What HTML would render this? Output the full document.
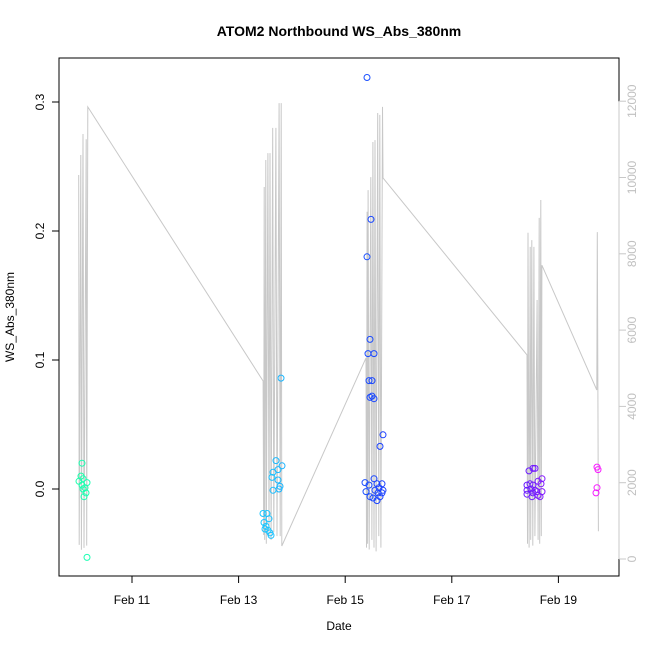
<!DOCTYPE html>
<html><head><meta charset="utf-8"><style>
html,body{margin:0;padding:0;background:#fff;}
svg{display:block;font-family:"Liberation Sans",sans-serif;}
</style></head><body>
<svg id="chart" width="650" height="650" viewBox="0 0 650 650">
<text x="339" y="36" text-anchor="middle" font-size="14" font-weight="bold">ATOM2 Northbound WS_Abs_380nm</text>
<text x="339" y="630" text-anchor="middle" font-size="12">Date</text>
<text transform="translate(14,317) rotate(-90)" text-anchor="middle" font-size="12">WS_Abs_380nm</text>
<rect x="59" y="58" width="560" height="518" fill="none" stroke="#000" stroke-width="1"/>
<g id="gray"></g><g id="pts"></g><g id="axes"></g>
</svg>
<script>
const grayDays=[10.00,10.01,10.04,10.05,10.08,10.10,10.14,10.15,10.17,
13.46,13.47,13.48,13.49,13.51,13.52,13.55,13.57,13.59,13.61,13.64,13.66,13.70,13.72,13.76,13.78,13.80,13.81,
15.39,15.40,15.41,15.42,15.43,15.45,15.48,15.50,15.52,15.54,15.56,15.58,15.61,15.63,15.65,15.67,15.70,15.71,
18.41,18.42,18.43,18.45,18.47,18.48,18.50,18.52,18.54,18.56,18.60,18.62,18.64,18.65,18.67,18.68,18.69,
19.72,19.73,19.75];
const grayValues=[10065,370,10590,240,11140,290,11000,350,11850,
4666,630,9750,500,10460,400,10640,600,10640,500,11300,700,11300,600,11950,600,11950,340,
5270,300,9100,400,9670,250,10010,500,10930,300,10980,200,11690,600,11640,300,11850,9990,
5350,400,8550,300,8180,500,8360,350,8180,600,6790,500,8940,400,9410,600,7700,
4430,8570,730];
const pointDays=[10.062,10.043,10.006,10.081,10.156,10.062,10.118,10.081,10.137,10.099,10.156,
13.795,13.702,13.814,13.645,13.627,13.739,13.739,13.645,13.777,13.758,13.458,13.533,13.570,13.477,13.514,13.495,13.552,13.589,13.608,
15.409,15.484,15.409,15.465,15.428,15.540,15.447,15.503,15.465,15.503,15.540,15.709,15.653,15.371,15.447,15.540,15.390,15.597,15.690,15.634,15.559,15.709,15.615,15.690,15.465,15.522,15.653,15.597,
18.448,18.523,18.561,18.617,18.692,18.674,18.411,18.467,18.523,18.411,18.486,18.561,18.598,18.692,18.411,18.523,18.617,18.505,18.655,
19.724,19.743,19.724,19.705];
const pointValues=[0.020,0.010,0.006,0.008,0.005,0.003,0.001,0.0,-0.003,-0.006,-0.053,
0.086,0.022,0.018,0.013,0.009,0.015,0.007,-0.001,0.002,0.0,-0.019,-0.019,-0.023,-0.026,-0.029,-0.031,-0.032,-0.034,-0.036,
0.319,0.209,0.180,0.116,0.105,0.105,0.084,0.084,0.071,0.072,0.070,0.042,0.033,0.005,0.003,0.008,-0.002,0.004,0.004,0.001,-0.001,-0.001,-0.003,-0.003,-0.006,-0.007,-0.006,-0.009,
0.014,0.016,0.016,0.006,0.008,0.004,0.003,0.004,0.003,-0.001,0.0,-0.001,-0.002,-0.002,-0.004,-0.003,-0.005,-0.006,-0.006,
0.017,0.015,0.001,-0.003];
const xTickDays=[11,13,15,17,19];
const xTickLabels=["Feb 11","Feb 13","Feb 15","Feb 17","Feb 19"];
const yTicks=[0,0.1,0.2,0.3];
const yTickLabels=["0.0","0.1","0.2","0.3"];
const y2Ticks=[0,2000,4000,6000,8000,10000,12000];

const NS="http://www.w3.org/2000/svg";
function X(d){return 132+(d-11)*53.3;}
function Y(v){return 489-v*1290;}
function Y2(v){return 559-v*0.03815;}
function hueFor(d){const a=[[10,158],[13.6,196],[15.5,228],[18.5,262],[19.8,300]];
 for(let i=0;i<a.length-1;i++){if(d<=a[i+1][0]){const t=(d-a[i][0])/(a[i+1][0]-a[i][0]);return a[i][1]+t*(a[i+1][1]-a[i][1]);}}return 300;}
function mk(tag,attrs,parent){const e=document.createElementNS(NS,tag);for(const k in attrs)e.setAttribute(k,attrs[k]);parent.appendChild(e);return e;}

const gG=document.getElementById('gray');
let d="";grayDays.forEach((dd,i)=>{d+=(i?"L":"M")+X(dd).toFixed(1)+","+Y2(grayValues[i]).toFixed(1);});
const gl=mk('path',{d:d,fill:"none",stroke:"#c8c8c8","stroke-width":1},gG);



const pG=document.getElementById('pts');
pointDays.forEach((dd,i)=>{
 const c=mk('circle',{cx:X(dd).toFixed(1),cy:Y(pointValues[i]).toFixed(1),r:3,fill:"none",stroke:"hsl("+hueFor(dd).toFixed(0)+",100%,55%)","stroke-width":1},pG);
 
 
});

const aG=document.getElementById('axes');
const xl=mk('line',{x1:X(11),x2:X(19),y1:576,y2:576,stroke:"#000"},aG);


xTickDays.forEach((dd,i)=>{
 const t=mk('line',{x1:X(dd),x2:X(dd),y1:576,y2:583,stroke:"#000"},aG);
 
 
 const l=mk('text',{x:X(dd),y:604,"text-anchor":"middle","font-size":12},aG);
 l.textContent=xTickLabels[i];
 
 
});
const yl=mk('line',{x1:59,x2:59,y1:Y(0),y2:Y(0.3),stroke:"#000"},aG);


yTicks.forEach((v,i)=>{
 const t=mk('line',{x1:52,x2:59,y1:Y(v),y2:Y(v),stroke:"#000"},aG);
 
 
 const l=mk('text',{transform:"translate(44,"+Y(v)+") rotate(-90)","text-anchor":"middle","font-size":12},aG);
 l.textContent=yTickLabels[i];
 
 
});
const y2l=mk('line',{x1:619,x2:619,y1:Y2(0),y2:Y2(12000),stroke:"#c8c8c8"},aG);


y2Ticks.forEach(v=>{
 const t=mk('line',{x1:619,x2:626,y1:Y2(v),y2:Y2(v),stroke:"#c8c8c8"},aG);
 
 
 const l=mk('text',{transform:"translate(636,"+Y2(v)+") rotate(-90)","text-anchor":"middle","font-size":12,fill:"#c0c0c0"},aG);
 l.textContent=String(v);
 
 
});
</script>
</body></html>
